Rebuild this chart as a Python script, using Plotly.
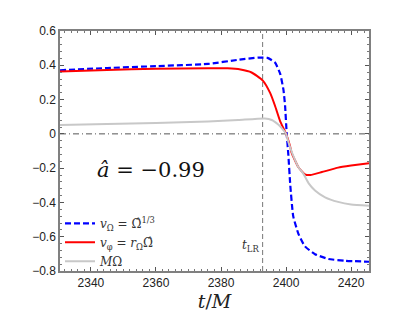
import plotly.graph_objects as go

# --- data ---
t_blue = [2330.5, 2345, 2360, 2376, 2385.3, 2391.5, 2394.3, 2396.6, 2398.2, 2399.2, 2399.7,
          2400.2, 2400.7, 2401.3, 2402.2, 2403.8, 2405.8, 2408.9, 2413, 2418, 2425.5]
v_blue = [0.371, 0.384, 0.395, 0.408, 0.432, 0.445, 0.443, 0.416, 0.35, 0.257, 0.164,
          0.0, -0.121, -0.30, -0.48, -0.583, -0.656, -0.702, -0.73, -0.740, -0.746]

t_red = [2330.5, 2345, 2360, 2376, 2382, 2386, 2389.4, 2392.8, 2395.1, 2396.6, 2398.2, 2400,
         2401.2, 2401.7, 2403.8, 2405.8, 2407.5, 2411, 2416, 2420, 2425.5]
v_red = [0.364, 0.373, 0.380, 0.383, 0.382, 0.375, 0.358, 0.312, 0.239, 0.164, 0.073, 0.0,
         -0.07, -0.11, -0.195, -0.236, -0.240, -0.223, -0.197, -0.185, -0.171]

t_gray = [2330.5, 2345, 2360, 2376, 2385.3, 2393.5, 2395.6, 2397.6, 2398.6, 2400, 2400.7,
          2401.7, 2403.8, 2405.3, 2406.9, 2408.9, 2412, 2416, 2420, 2425.5]
v_gray = [0.051, 0.057, 0.063, 0.072, 0.081, 0.090, 0.081, 0.054, 0.035, 0.0, -0.047,
          -0.103, -0.195, -0.232, -0.287, -0.330, -0.37, -0.397, -0.412, -0.419]

t_LR = 2392.8
spin_label = "<i>â</i> = −0.99"
names = ["<i>v</i><sub>Ω</sub> = Ω̂<sup>1/3</sup>",
         "<i>v</i><sub>φ</sub> = <i>r</i><sub>Ω</sub>Ω̂",
         "<i>M</i>Ω"]
x_ticks = [2340, 2360, 2380, 2400, 2420]
y_ticks = [-0.8, -0.6, -0.4, -0.2, 0, 0.2, 0.4, 0.6]
x_range = [2330.5, 2425.5]
y_range = [-0.8, 0.6]

fig = go.Figure()
fig.add_trace(go.Scatter(x=t_blue, y=v_blue, mode="lines", name=names[0],
                         line=dict(color="#0000FF", width=2.2, dash="6px,3px",
                                   shape="spline", smoothing=0.45)))
fig.add_trace(go.Scatter(x=t_red, y=v_red, mode="lines", name=names[1],
                         line=dict(color="#FF0000", width=2, shape="spline", smoothing=0.45)))
fig.add_trace(go.Scatter(x=t_gray, y=v_gray, mode="lines", name=names[2],
                         line=dict(color="#C8C8C8", width=2, shape="spline", smoothing=0.45)))

# reference lines
fig.add_hline(y=0, line=dict(color="#555555", width=1, dash="6px,3px,1px,3px"), layer="below")
fig.add_vline(x=t_LR, line=dict(color="#777777", width=1, dash="5px,3px"), layer="below")

fig.add_annotation(x=2358.5, y=-0.213, xref="x", yref="y", text=spin_label, showarrow=False,
                   font=dict(family="DejaVu Serif", size=21, color="#111111"))
fig.add_annotation(x=t_LR - 0.4, y=-0.655, xref="x", yref="y", text="<i>t</i><sub>LR</sub>",
                   showarrow=False, xanchor="right",
                   font=dict(family="DejaVu Serif", size=12, color="#333333"))

axis_common = dict(showline=True, linecolor="#808080", linewidth=1.5, mirror="ticks",
                   ticks="inside", ticklen=4, tickcolor="#555555", tickwidth=1,
                   showgrid=False, zeroline=False,
                   tickfont=dict(family="Liberation Sans", size=12, color="#222222"))

fig.update_xaxes(range=x_range, tickvals=x_ticks, **axis_common,
                 minor=dict(ticks="inside", ticklen=2, dtick=2, tick0=2330, tickcolor="#777777"),
                 title=dict(text="<i>t</i>/<i>M</i>", standoff=4,
                            font=dict(family="DejaVu Serif", size=19, color="#222222")))
fig.update_yaxes(range=y_range, tickvals=y_ticks, **axis_common,
                 minor=dict(ticks="inside", ticklen=2, dtick=0.04, tick0=0, tickcolor="#777777"))

fig.update_layout(
    width=399, height=311,
    margin=dict(l=52, r=38, t=23, b=35),
    paper_bgcolor="white", plot_bgcolor="white",
    showlegend=True,
    legend=dict(x=0.0, y=-0.02, xanchor="left", yanchor="bottom",
                bgcolor="rgba(0,0,0,0)", borderwidth=0,
                font=dict(family="DejaVu Serif", size=12, color="#333333"),
                itemwidth=30, tracegroupgap=0),
)

fig.write_html("out.html")
